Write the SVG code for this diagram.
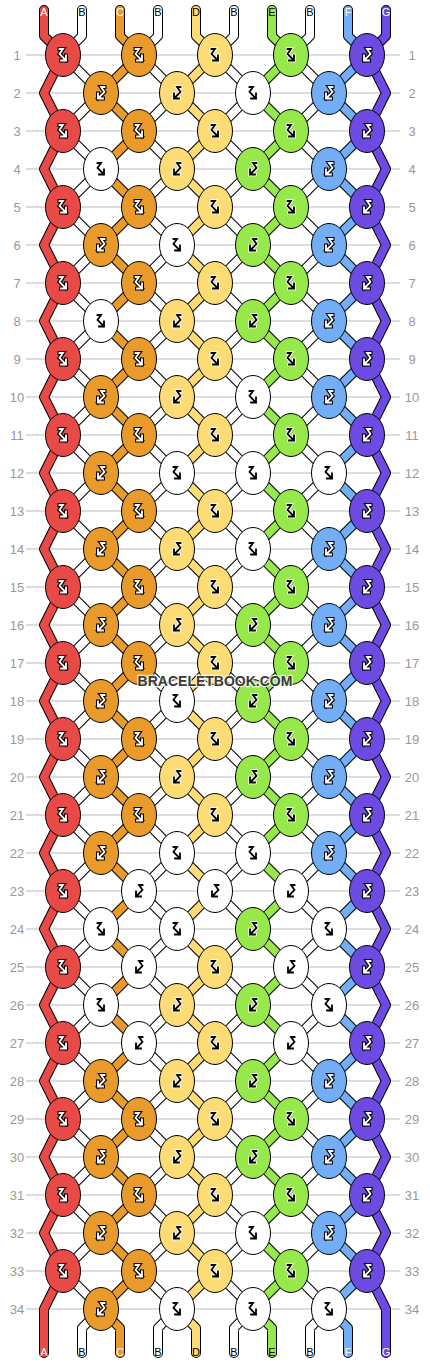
<svg xmlns="http://www.w3.org/2000/svg" xmlns:xlink="http://www.w3.org/1999/xlink" width="430" height="1364" viewBox="0 0 430 1364">
<style>
.gl{stroke:#bbb;stroke-width:1;fill:none}
.rl{font-family:"Liberation Sans",Arial,sans-serif;font-size:13px;fill:#999;text-anchor:middle}
.sl{font-family:"Liberation Sans",Arial,sans-serif;font-size:11px;text-anchor:middle}
.st{fill:none;stroke-linejoin:round;stroke-linecap:round}
.ol{stroke:#000;stroke-width:10}
.fl{stroke-width:8}
ellipse{stroke:#000;stroke-width:1}
.R{fill:#e84a47}.O{fill:#e89a2b}.Y{fill:#fddc76}.G{fill:#97e84b}.L{fill:#71aef6}.P{fill:#6d4ae2}.W{fill:#fff}
.ic{fill:none;stroke-linecap:square;stroke-linejoin:miter}
.wm{font-family:"Liberation Sans",Arial,sans-serif;font-size:14px;font-weight:bold;fill:#3a3a3a;text-anchor:middle;stroke:#fff;stroke-width:2.5;paint-order:stroke;stroke-opacity:0.8}
</style>
<defs>
<path id="sA" class="st" d="M0,10V36L19,55l-19,38l19,38l-19,38l19,38l-19,38l19,38l-19,38l19,38l-19,38l19,38l-19,38l19,38l-19,38l19,38l-19,38l19,38l-19,38l19,38l-19,38l19,38l-19,38l19,38l-19,38l19,38l-19,38l19,38l-19,38l19,38l-19,38l19,38l-19,38l19,38l-19,38V1353"/>
<path id="sI" class="st" d="M0,10V36L19,55l-38,38l38,38l-38,38l38,38l-38,38l38,38l-38,38l38,38l-38,38l38,38l-38,38l38,38l-38,38l38,38l-38,38l38,38l-38,38l38,38l-38,38l38,38l-38,38l38,38l-38,38l38,38l-38,38l38,38l-38,38l38,38l-38,38l38,38l-38,38l38,38l-38,38l19,19V1353"/>
<path id="pf" d="M-3.5,-6H0L-3.5,-1L3,5.5M3,0.5V5.5H-2"/>
<path id="pb" d="M3.5,-6H0L3.5,-1L-3,5.5M-3,0.5V5.5H2"/>
<g id="fw" class="ic"><use xlink:href="#pf" stroke="#000" stroke-width="4"/><use xlink:href="#pf" stroke="#fff" stroke-width="1.8"/></g>
<g id="bw" class="ic"><use xlink:href="#pb" stroke="#000" stroke-width="4"/><use xlink:href="#pb" stroke="#fff" stroke-width="1.8"/></g>
<g id="fk" class="ic"><use xlink:href="#pf" stroke="#fff" stroke-width="3.6"/><use xlink:href="#pf" stroke="#000" stroke-width="1.8"/></g>
<g id="bk" class="ic"><use xlink:href="#pb" stroke="#fff" stroke-width="3.6"/><use xlink:href="#pb" stroke="#000" stroke-width="1.8"/></g>
</defs>
<rect width="430" height="1364" fill="#fff"/>
<g id="grid">
<path class="gl" d="M26,55H400M26,93H400M26,131H400M26,169H400M26,207H400M26,245H400M26,283H400M26,321H400M26,359H400M26,397H400M26,435H400M26,473H400M26,511H400M26,549H400M26,587H400M26,625H400M26,663H400M26,701H400M26,739H400M26,777H400M26,815H400M26,853H400M26,891H400M26,929H400M26,967H400M26,1005H400M26,1043H400M26,1081H400M26,1119H400M26,1157H400M26,1195H400M26,1233H400M26,1271H400M26,1309H400"/>
<g class="rl">
<text x="17" y="59.5">1</text><text x="17" y="97.5">2</text><text x="17" y="135.5">3</text><text x="17" y="173.5">4</text><text x="17" y="211.5">5</text><text x="17" y="249.5">6</text><text x="17" y="287.5">7</text><text x="17" y="325.5">8</text><text x="17" y="363.5">9</text><text x="17" y="401.5">10</text><text x="17" y="439.5">11</text><text x="17" y="477.5">12</text><text x="17" y="515.5">13</text><text x="17" y="553.5">14</text><text x="17" y="591.5">15</text><text x="17" y="629.5">16</text><text x="17" y="667.5">17</text><text x="17" y="705.5">18</text><text x="17" y="743.5">19</text><text x="17" y="781.5">20</text><text x="17" y="819.5">21</text><text x="17" y="857.5">22</text><text x="17" y="895.5">23</text><text x="17" y="933.5">24</text><text x="17" y="971.5">25</text><text x="17" y="1009.5">26</text><text x="17" y="1047.5">27</text><text x="17" y="1085.5">28</text><text x="17" y="1123.5">29</text><text x="17" y="1161.5">30</text><text x="17" y="1199.5">31</text><text x="17" y="1237.5">32</text><text x="17" y="1275.5">33</text><text x="17" y="1313.5">34</text>
<text x="412" y="59.5">1</text><text x="412" y="97.5">2</text><text x="412" y="135.5">3</text><text x="412" y="173.5">4</text><text x="412" y="211.5">5</text><text x="412" y="249.5">6</text><text x="412" y="287.5">7</text><text x="412" y="325.5">8</text><text x="412" y="363.5">9</text><text x="412" y="401.5">10</text><text x="412" y="439.5">11</text><text x="412" y="477.5">12</text><text x="412" y="515.5">13</text><text x="412" y="553.5">14</text><text x="412" y="591.5">15</text><text x="412" y="629.5">16</text><text x="412" y="667.5">17</text><text x="412" y="705.5">18</text><text x="412" y="743.5">19</text><text x="412" y="781.5">20</text><text x="412" y="819.5">21</text><text x="412" y="857.5">22</text><text x="412" y="895.5">23</text><text x="412" y="933.5">24</text><text x="412" y="971.5">25</text><text x="412" y="1009.5">26</text><text x="412" y="1047.5">27</text><text x="412" y="1085.5">28</text><text x="412" y="1123.5">29</text><text x="412" y="1161.5">30</text><text x="412" y="1199.5">31</text><text x="412" y="1237.5">32</text><text x="412" y="1275.5">33</text><text x="412" y="1313.5">34</text>
</g>
</g>
<g id="connectors">
<g class="ol">
<use xlink:href="#sA" transform="translate(44,0)"/>
<use xlink:href="#sI" transform="translate(82,0) scale(-1,1)"/>
<use xlink:href="#sI" transform="translate(120,0)"/>
<use xlink:href="#sI" transform="translate(158,0) scale(-1,1)"/>
<use xlink:href="#sI" transform="translate(196,0)"/>
<use xlink:href="#sI" transform="translate(234,0) scale(-1,1)"/>
<use xlink:href="#sI" transform="translate(272,0)"/>
<use xlink:href="#sI" transform="translate(310,0) scale(-1,1)"/>
<use xlink:href="#sI" transform="translate(348,0)"/>
<use xlink:href="#sA" transform="translate(386,0) scale(-1,1)"/>
</g>
<g class="fl">
<use xlink:href="#sA" transform="translate(44,0)" stroke="#e84a47"/>
<use xlink:href="#sI" transform="translate(82,0) scale(-1,1)" stroke="#fff"/>
<use xlink:href="#sI" transform="translate(120,0)" stroke="#e89a2b"/>
<use xlink:href="#sI" transform="translate(158,0) scale(-1,1)" stroke="#fff"/>
<use xlink:href="#sI" transform="translate(196,0)" stroke="#fddc76"/>
<use xlink:href="#sI" transform="translate(234,0) scale(-1,1)" stroke="#fff"/>
<use xlink:href="#sI" transform="translate(272,0)" stroke="#97e84b"/>
<use xlink:href="#sI" transform="translate(310,0) scale(-1,1)" stroke="#fff"/>
<use xlink:href="#sI" transform="translate(348,0)" stroke="#71aef6"/>
<use xlink:href="#sA" transform="translate(386,0) scale(-1,1)" stroke="#6d4ae2"/>
</g>
</g>
<g id="labels" class="sl">
<text x="44" y="16" fill="#fff">A</text><text x="82" y="16" fill="#000">B</text><text x="120" y="16" fill="#fff">C</text><text x="158" y="16" fill="#000">B</text><text x="196" y="16" fill="#000">D</text><text x="234" y="16" fill="#000">B</text><text x="272" y="16" fill="#000">E</text><text x="310" y="16" fill="#000">B</text><text x="348" y="16" fill="#fff">F</text><text x="386" y="16" fill="#fff">G</text>
<text x="44" y="1356" fill="#fff">A</text><text x="82" y="1356" fill="#000">B</text><text x="120" y="1356" fill="#fff">C</text><text x="158" y="1356" fill="#000">B</text><text x="196" y="1356" fill="#000">D</text><text x="234" y="1356" fill="#000">B</text><text x="272" y="1356" fill="#000">E</text><text x="310" y="1356" fill="#000">B</text><text x="348" y="1356" fill="#fff">F</text><text x="386" y="1356" fill="#fff">G</text>
</g>
<g id="knots">
<g id="k1-1" transform="translate(63,55)"><ellipse class="R" rx="17.5" ry="21.5"/><use xlink:href="#fw"/></g>
<g id="k1-2" transform="translate(139,55)"><ellipse class="O" rx="17.5" ry="21.5"/><use xlink:href="#fw"/></g>
<g id="k1-3" transform="translate(215,55)"><ellipse class="Y" rx="17.5" ry="21.5"/><use xlink:href="#fk"/></g>
<g id="k1-4" transform="translate(291,55)"><ellipse class="G" rx="17.5" ry="21.5"/><use xlink:href="#fk"/></g>
<g id="k1-5" transform="translate(367,55)"><ellipse class="P" rx="17.5" ry="21.5"/><use xlink:href="#bw"/></g>
<g id="k2-1" transform="translate(101,93)"><ellipse class="O" rx="17.5" ry="21.5"/><use xlink:href="#bw"/></g>
<g id="k2-2" transform="translate(177,93)"><ellipse class="Y" rx="17.5" ry="21.5"/><use xlink:href="#bk"/></g>
<g id="k2-3" transform="translate(253,93)"><ellipse class="W" rx="17.5" ry="21.5"/><use xlink:href="#fk"/></g>
<g id="k2-4" transform="translate(329,93)"><ellipse class="L" rx="17.5" ry="21.5"/><use xlink:href="#bw"/></g>
<g id="k3-1" transform="translate(63,131)"><ellipse class="R" rx="17.5" ry="21.5"/><use xlink:href="#fw"/></g>
<g id="k3-2" transform="translate(139,131)"><ellipse class="O" rx="17.5" ry="21.5"/><use xlink:href="#fw"/></g>
<g id="k3-3" transform="translate(215,131)"><ellipse class="Y" rx="17.5" ry="21.5"/><use xlink:href="#fk"/></g>
<g id="k3-4" transform="translate(291,131)"><ellipse class="G" rx="17.5" ry="21.5"/><use xlink:href="#fk"/></g>
<g id="k3-5" transform="translate(367,131)"><ellipse class="P" rx="17.5" ry="21.5"/><use xlink:href="#bw"/></g>
<g id="k4-1" transform="translate(101,169)"><ellipse class="W" rx="17.5" ry="21.5"/><use xlink:href="#fk"/></g>
<g id="k4-2" transform="translate(177,169)"><ellipse class="Y" rx="17.5" ry="21.5"/><use xlink:href="#bk"/></g>
<g id="k4-3" transform="translate(253,169)"><ellipse class="G" rx="17.5" ry="21.5"/><use xlink:href="#bk"/></g>
<g id="k4-4" transform="translate(329,169)"><ellipse class="L" rx="17.5" ry="21.5"/><use xlink:href="#bw"/></g>
<g id="k5-1" transform="translate(63,207)"><ellipse class="R" rx="17.5" ry="21.5"/><use xlink:href="#fw"/></g>
<g id="k5-2" transform="translate(139,207)"><ellipse class="O" rx="17.5" ry="21.5"/><use xlink:href="#fw"/></g>
<g id="k5-3" transform="translate(215,207)"><ellipse class="Y" rx="17.5" ry="21.5"/><use xlink:href="#fk"/></g>
<g id="k5-4" transform="translate(291,207)"><ellipse class="G" rx="17.5" ry="21.5"/><use xlink:href="#fk"/></g>
<g id="k5-5" transform="translate(367,207)"><ellipse class="P" rx="17.5" ry="21.5"/><use xlink:href="#bw"/></g>
<g id="k6-1" transform="translate(101,245)"><ellipse class="O" rx="17.5" ry="21.5"/><use xlink:href="#bw"/></g>
<g id="k6-2" transform="translate(177,245)"><ellipse class="W" rx="17.5" ry="21.5"/><use xlink:href="#fk"/></g>
<g id="k6-3" transform="translate(253,245)"><ellipse class="G" rx="17.5" ry="21.5"/><use xlink:href="#bk"/></g>
<g id="k6-4" transform="translate(329,245)"><ellipse class="L" rx="17.5" ry="21.5"/><use xlink:href="#bw"/></g>
<g id="k7-1" transform="translate(63,283)"><ellipse class="R" rx="17.5" ry="21.5"/><use xlink:href="#fw"/></g>
<g id="k7-2" transform="translate(139,283)"><ellipse class="O" rx="17.5" ry="21.5"/><use xlink:href="#fw"/></g>
<g id="k7-3" transform="translate(215,283)"><ellipse class="Y" rx="17.5" ry="21.5"/><use xlink:href="#fk"/></g>
<g id="k7-4" transform="translate(291,283)"><ellipse class="G" rx="17.5" ry="21.5"/><use xlink:href="#fk"/></g>
<g id="k7-5" transform="translate(367,283)"><ellipse class="P" rx="17.5" ry="21.5"/><use xlink:href="#bw"/></g>
<g id="k8-1" transform="translate(101,321)"><ellipse class="W" rx="17.5" ry="21.5"/><use xlink:href="#fk"/></g>
<g id="k8-2" transform="translate(177,321)"><ellipse class="Y" rx="17.5" ry="21.5"/><use xlink:href="#bk"/></g>
<g id="k8-3" transform="translate(253,321)"><ellipse class="G" rx="17.5" ry="21.5"/><use xlink:href="#bk"/></g>
<g id="k8-4" transform="translate(329,321)"><ellipse class="L" rx="17.5" ry="21.5"/><use xlink:href="#bw"/></g>
<g id="k9-1" transform="translate(63,359)"><ellipse class="R" rx="17.5" ry="21.5"/><use xlink:href="#fw"/></g>
<g id="k9-2" transform="translate(139,359)"><ellipse class="O" rx="17.5" ry="21.5"/><use xlink:href="#fw"/></g>
<g id="k9-3" transform="translate(215,359)"><ellipse class="Y" rx="17.5" ry="21.5"/><use xlink:href="#fk"/></g>
<g id="k9-4" transform="translate(291,359)"><ellipse class="G" rx="17.5" ry="21.5"/><use xlink:href="#fk"/></g>
<g id="k9-5" transform="translate(367,359)"><ellipse class="P" rx="17.5" ry="21.5"/><use xlink:href="#bw"/></g>
<g id="k10-1" transform="translate(101,397)"><ellipse class="O" rx="17.5" ry="21.5"/><use xlink:href="#bw"/></g>
<g id="k10-2" transform="translate(177,397)"><ellipse class="Y" rx="17.5" ry="21.5"/><use xlink:href="#bk"/></g>
<g id="k10-3" transform="translate(253,397)"><ellipse class="W" rx="17.5" ry="21.5"/><use xlink:href="#fk"/></g>
<g id="k10-4" transform="translate(329,397)"><ellipse class="L" rx="17.5" ry="21.5"/><use xlink:href="#bw"/></g>
<g id="k11-1" transform="translate(63,435)"><ellipse class="R" rx="17.5" ry="21.5"/><use xlink:href="#fw"/></g>
<g id="k11-2" transform="translate(139,435)"><ellipse class="O" rx="17.5" ry="21.5"/><use xlink:href="#fw"/></g>
<g id="k11-3" transform="translate(215,435)"><ellipse class="Y" rx="17.5" ry="21.5"/><use xlink:href="#fk"/></g>
<g id="k11-4" transform="translate(291,435)"><ellipse class="G" rx="17.5" ry="21.5"/><use xlink:href="#fk"/></g>
<g id="k11-5" transform="translate(367,435)"><ellipse class="P" rx="17.5" ry="21.5"/><use xlink:href="#bw"/></g>
<g id="k12-1" transform="translate(101,473)"><ellipse class="O" rx="17.5" ry="21.5"/><use xlink:href="#bw"/></g>
<g id="k12-2" transform="translate(177,473)"><ellipse class="W" rx="17.5" ry="21.5"/><use xlink:href="#fk"/></g>
<g id="k12-3" transform="translate(253,473)"><ellipse class="W" rx="17.5" ry="21.5"/><use xlink:href="#fk"/></g>
<g id="k12-4" transform="translate(329,473)"><ellipse class="W" rx="17.5" ry="21.5"/><use xlink:href="#fk"/></g>
<g id="k13-1" transform="translate(63,511)"><ellipse class="R" rx="17.5" ry="21.5"/><use xlink:href="#fw"/></g>
<g id="k13-2" transform="translate(139,511)"><ellipse class="O" rx="17.5" ry="21.5"/><use xlink:href="#fw"/></g>
<g id="k13-3" transform="translate(215,511)"><ellipse class="Y" rx="17.5" ry="21.5"/><use xlink:href="#fk"/></g>
<g id="k13-4" transform="translate(291,511)"><ellipse class="G" rx="17.5" ry="21.5"/><use xlink:href="#fk"/></g>
<g id="k13-5" transform="translate(367,511)"><ellipse class="P" rx="17.5" ry="21.5"/><use xlink:href="#bw"/></g>
<g id="k14-1" transform="translate(101,549)"><ellipse class="O" rx="17.5" ry="21.5"/><use xlink:href="#bw"/></g>
<g id="k14-2" transform="translate(177,549)"><ellipse class="Y" rx="17.5" ry="21.5"/><use xlink:href="#bk"/></g>
<g id="k14-3" transform="translate(253,549)"><ellipse class="W" rx="17.5" ry="21.5"/><use xlink:href="#fk"/></g>
<g id="k14-4" transform="translate(329,549)"><ellipse class="L" rx="17.5" ry="21.5"/><use xlink:href="#bw"/></g>
<g id="k15-1" transform="translate(63,587)"><ellipse class="R" rx="17.5" ry="21.5"/><use xlink:href="#fw"/></g>
<g id="k15-2" transform="translate(139,587)"><ellipse class="O" rx="17.5" ry="21.5"/><use xlink:href="#fw"/></g>
<g id="k15-3" transform="translate(215,587)"><ellipse class="Y" rx="17.5" ry="21.5"/><use xlink:href="#fk"/></g>
<g id="k15-4" transform="translate(291,587)"><ellipse class="G" rx="17.5" ry="21.5"/><use xlink:href="#fk"/></g>
<g id="k15-5" transform="translate(367,587)"><ellipse class="P" rx="17.5" ry="21.5"/><use xlink:href="#bw"/></g>
<g id="k16-1" transform="translate(101,625)"><ellipse class="O" rx="17.5" ry="21.5"/><use xlink:href="#bw"/></g>
<g id="k16-2" transform="translate(177,625)"><ellipse class="Y" rx="17.5" ry="21.5"/><use xlink:href="#bk"/></g>
<g id="k16-3" transform="translate(253,625)"><ellipse class="G" rx="17.5" ry="21.5"/><use xlink:href="#bk"/></g>
<g id="k16-4" transform="translate(329,625)"><ellipse class="L" rx="17.5" ry="21.5"/><use xlink:href="#bw"/></g>
<g id="k17-1" transform="translate(63,663)"><ellipse class="R" rx="17.5" ry="21.5"/><use xlink:href="#fw"/></g>
<g id="k17-2" transform="translate(139,663)"><ellipse class="O" rx="17.5" ry="21.5"/><use xlink:href="#fw"/></g>
<g id="k17-3" transform="translate(215,663)"><ellipse class="Y" rx="17.5" ry="21.5"/><use xlink:href="#fk"/></g>
<g id="k17-4" transform="translate(291,663)"><ellipse class="G" rx="17.5" ry="21.5"/><use xlink:href="#fk"/></g>
<g id="k17-5" transform="translate(367,663)"><ellipse class="P" rx="17.5" ry="21.5"/><use xlink:href="#bw"/></g>
<g id="k18-1" transform="translate(101,701)"><ellipse class="O" rx="17.5" ry="21.5"/><use xlink:href="#bw"/></g>
<g id="k18-2" transform="translate(177,701)"><ellipse class="W" rx="17.5" ry="21.5"/><use xlink:href="#fk"/></g>
<g id="k18-3" transform="translate(253,701)"><ellipse class="G" rx="17.5" ry="21.5"/><use xlink:href="#bk"/></g>
<g id="k18-4" transform="translate(329,701)"><ellipse class="L" rx="17.5" ry="21.5"/><use xlink:href="#bw"/></g>
<g id="k19-1" transform="translate(63,739)"><ellipse class="R" rx="17.5" ry="21.5"/><use xlink:href="#fw"/></g>
<g id="k19-2" transform="translate(139,739)"><ellipse class="O" rx="17.5" ry="21.5"/><use xlink:href="#fw"/></g>
<g id="k19-3" transform="translate(215,739)"><ellipse class="Y" rx="17.5" ry="21.5"/><use xlink:href="#fk"/></g>
<g id="k19-4" transform="translate(291,739)"><ellipse class="G" rx="17.5" ry="21.5"/><use xlink:href="#fk"/></g>
<g id="k19-5" transform="translate(367,739)"><ellipse class="P" rx="17.5" ry="21.5"/><use xlink:href="#bw"/></g>
<g id="k20-1" transform="translate(101,777)"><ellipse class="O" rx="17.5" ry="21.5"/><use xlink:href="#bw"/></g>
<g id="k20-2" transform="translate(177,777)"><ellipse class="Y" rx="17.5" ry="21.5"/><use xlink:href="#bk"/></g>
<g id="k20-3" transform="translate(253,777)"><ellipse class="G" rx="17.5" ry="21.5"/><use xlink:href="#bk"/></g>
<g id="k20-4" transform="translate(329,777)"><ellipse class="L" rx="17.5" ry="21.5"/><use xlink:href="#bw"/></g>
<g id="k21-1" transform="translate(63,815)"><ellipse class="R" rx="17.5" ry="21.5"/><use xlink:href="#fw"/></g>
<g id="k21-2" transform="translate(139,815)"><ellipse class="O" rx="17.5" ry="21.5"/><use xlink:href="#fw"/></g>
<g id="k21-3" transform="translate(215,815)"><ellipse class="Y" rx="17.5" ry="21.5"/><use xlink:href="#fk"/></g>
<g id="k21-4" transform="translate(291,815)"><ellipse class="G" rx="17.5" ry="21.5"/><use xlink:href="#fk"/></g>
<g id="k21-5" transform="translate(367,815)"><ellipse class="P" rx="17.5" ry="21.5"/><use xlink:href="#bw"/></g>
<g id="k22-1" transform="translate(101,853)"><ellipse class="O" rx="17.5" ry="21.5"/><use xlink:href="#bw"/></g>
<g id="k22-2" transform="translate(177,853)"><ellipse class="W" rx="17.5" ry="21.5"/><use xlink:href="#fk"/></g>
<g id="k22-3" transform="translate(253,853)"><ellipse class="W" rx="17.5" ry="21.5"/><use xlink:href="#fk"/></g>
<g id="k22-4" transform="translate(329,853)"><ellipse class="L" rx="17.5" ry="21.5"/><use xlink:href="#bw"/></g>
<g id="k23-1" transform="translate(63,891)"><ellipse class="R" rx="17.5" ry="21.5"/><use xlink:href="#fw"/></g>
<g id="k23-2" transform="translate(139,891)"><ellipse class="W" rx="17.5" ry="21.5"/><use xlink:href="#bk"/></g>
<g id="k23-3" transform="translate(215,891)"><ellipse class="W" rx="17.5" ry="21.5"/><use xlink:href="#bk"/></g>
<g id="k23-4" transform="translate(291,891)"><ellipse class="W" rx="17.5" ry="21.5"/><use xlink:href="#bk"/></g>
<g id="k23-5" transform="translate(367,891)"><ellipse class="P" rx="17.5" ry="21.5"/><use xlink:href="#bw"/></g>
<g id="k24-1" transform="translate(101,929)"><ellipse class="W" rx="17.5" ry="21.5"/><use xlink:href="#fk"/></g>
<g id="k24-2" transform="translate(177,929)"><ellipse class="W" rx="17.5" ry="21.5"/><use xlink:href="#fk"/></g>
<g id="k24-3" transform="translate(253,929)"><ellipse class="G" rx="17.5" ry="21.5"/><use xlink:href="#bk"/></g>
<g id="k24-4" transform="translate(329,929)"><ellipse class="W" rx="17.5" ry="21.5"/><use xlink:href="#fk"/></g>
<g id="k25-1" transform="translate(63,967)"><ellipse class="R" rx="17.5" ry="21.5"/><use xlink:href="#fw"/></g>
<g id="k25-2" transform="translate(139,967)"><ellipse class="W" rx="17.5" ry="21.5"/><use xlink:href="#bk"/></g>
<g id="k25-3" transform="translate(215,967)"><ellipse class="Y" rx="17.5" ry="21.5"/><use xlink:href="#fk"/></g>
<g id="k25-4" transform="translate(291,967)"><ellipse class="W" rx="17.5" ry="21.5"/><use xlink:href="#bk"/></g>
<g id="k25-5" transform="translate(367,967)"><ellipse class="P" rx="17.5" ry="21.5"/><use xlink:href="#bw"/></g>
<g id="k26-1" transform="translate(101,1005)"><ellipse class="W" rx="17.5" ry="21.5"/><use xlink:href="#fk"/></g>
<g id="k26-2" transform="translate(177,1005)"><ellipse class="Y" rx="17.5" ry="21.5"/><use xlink:href="#bk"/></g>
<g id="k26-3" transform="translate(253,1005)"><ellipse class="G" rx="17.5" ry="21.5"/><use xlink:href="#bk"/></g>
<g id="k26-4" transform="translate(329,1005)"><ellipse class="W" rx="17.5" ry="21.5"/><use xlink:href="#fk"/></g>
<g id="k27-1" transform="translate(63,1043)"><ellipse class="R" rx="17.5" ry="21.5"/><use xlink:href="#fw"/></g>
<g id="k27-2" transform="translate(139,1043)"><ellipse class="W" rx="17.5" ry="21.5"/><use xlink:href="#bk"/></g>
<g id="k27-3" transform="translate(215,1043)"><ellipse class="Y" rx="17.5" ry="21.5"/><use xlink:href="#fk"/></g>
<g id="k27-4" transform="translate(291,1043)"><ellipse class="W" rx="17.5" ry="21.5"/><use xlink:href="#bk"/></g>
<g id="k27-5" transform="translate(367,1043)"><ellipse class="P" rx="17.5" ry="21.5"/><use xlink:href="#bw"/></g>
<g id="k28-1" transform="translate(101,1081)"><ellipse class="O" rx="17.5" ry="21.5"/><use xlink:href="#bw"/></g>
<g id="k28-2" transform="translate(177,1081)"><ellipse class="Y" rx="17.5" ry="21.5"/><use xlink:href="#bk"/></g>
<g id="k28-3" transform="translate(253,1081)"><ellipse class="G" rx="17.5" ry="21.5"/><use xlink:href="#bk"/></g>
<g id="k28-4" transform="translate(329,1081)"><ellipse class="L" rx="17.5" ry="21.5"/><use xlink:href="#bw"/></g>
<g id="k29-1" transform="translate(63,1119)"><ellipse class="R" rx="17.5" ry="21.5"/><use xlink:href="#fw"/></g>
<g id="k29-2" transform="translate(139,1119)"><ellipse class="O" rx="17.5" ry="21.5"/><use xlink:href="#fw"/></g>
<g id="k29-3" transform="translate(215,1119)"><ellipse class="Y" rx="17.5" ry="21.5"/><use xlink:href="#fk"/></g>
<g id="k29-4" transform="translate(291,1119)"><ellipse class="G" rx="17.5" ry="21.5"/><use xlink:href="#fk"/></g>
<g id="k29-5" transform="translate(367,1119)"><ellipse class="P" rx="17.5" ry="21.5"/><use xlink:href="#bw"/></g>
<g id="k30-1" transform="translate(101,1157)"><ellipse class="O" rx="17.5" ry="21.5"/><use xlink:href="#bw"/></g>
<g id="k30-2" transform="translate(177,1157)"><ellipse class="Y" rx="17.5" ry="21.5"/><use xlink:href="#bk"/></g>
<g id="k30-3" transform="translate(253,1157)"><ellipse class="G" rx="17.5" ry="21.5"/><use xlink:href="#bk"/></g>
<g id="k30-4" transform="translate(329,1157)"><ellipse class="L" rx="17.5" ry="21.5"/><use xlink:href="#bw"/></g>
<g id="k31-1" transform="translate(63,1195)"><ellipse class="R" rx="17.5" ry="21.5"/><use xlink:href="#fw"/></g>
<g id="k31-2" transform="translate(139,1195)"><ellipse class="O" rx="17.5" ry="21.5"/><use xlink:href="#fw"/></g>
<g id="k31-3" transform="translate(215,1195)"><ellipse class="Y" rx="17.5" ry="21.5"/><use xlink:href="#fk"/></g>
<g id="k31-4" transform="translate(291,1195)"><ellipse class="G" rx="17.5" ry="21.5"/><use xlink:href="#fk"/></g>
<g id="k31-5" transform="translate(367,1195)"><ellipse class="P" rx="17.5" ry="21.5"/><use xlink:href="#bw"/></g>
<g id="k32-1" transform="translate(101,1233)"><ellipse class="O" rx="17.5" ry="21.5"/><use xlink:href="#bw"/></g>
<g id="k32-2" transform="translate(177,1233)"><ellipse class="Y" rx="17.5" ry="21.5"/><use xlink:href="#bk"/></g>
<g id="k32-3" transform="translate(253,1233)"><ellipse class="W" rx="17.5" ry="21.5"/><use xlink:href="#fk"/></g>
<g id="k32-4" transform="translate(329,1233)"><ellipse class="L" rx="17.5" ry="21.5"/><use xlink:href="#bw"/></g>
<g id="k33-1" transform="translate(63,1271)"><ellipse class="R" rx="17.5" ry="21.5"/><use xlink:href="#fw"/></g>
<g id="k33-2" transform="translate(139,1271)"><ellipse class="O" rx="17.5" ry="21.5"/><use xlink:href="#fw"/></g>
<g id="k33-3" transform="translate(215,1271)"><ellipse class="Y" rx="17.5" ry="21.5"/><use xlink:href="#fk"/></g>
<g id="k33-4" transform="translate(291,1271)"><ellipse class="G" rx="17.5" ry="21.5"/><use xlink:href="#fk"/></g>
<g id="k33-5" transform="translate(367,1271)"><ellipse class="P" rx="17.5" ry="21.5"/><use xlink:href="#bw"/></g>
<g id="k34-1" transform="translate(101,1309)"><ellipse class="O" rx="17.5" ry="21.5"/><use xlink:href="#bw"/></g>
<g id="k34-2" transform="translate(177,1309)"><ellipse class="W" rx="17.5" ry="21.5"/><use xlink:href="#fk"/></g>
<g id="k34-3" transform="translate(253,1309)"><ellipse class="W" rx="17.5" ry="21.5"/><use xlink:href="#fk"/></g>
<g id="k34-4" transform="translate(329,1309)"><ellipse class="W" rx="17.5" ry="21.5"/><use xlink:href="#fk"/></g>
</g>
<text id="watermark" class="wm" x="215" y="686">BRACELETBOOK.COM</text>
</svg>
